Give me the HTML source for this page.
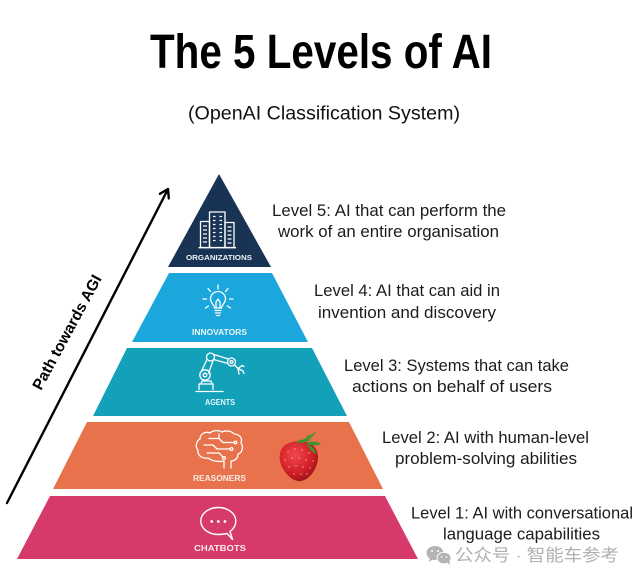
<!DOCTYPE html>
<html>
<head>
<meta charset="utf-8">
<style>
  html, body { margin: 0; padding: 0; background: #ffffff; }
  body { width: 640px; height: 581px; overflow: hidden; }
  svg { display: block; }
  .t { font-family: "Liberation Sans", "Noto Sans CJK SC", sans-serif; }
</style>
</head>
<body>
<svg width="640" height="581" viewBox="0 0 640 581" xmlns="http://www.w3.org/2000/svg">
  <defs>
    <radialGradient id="berry" cx="0.4" cy="0.35" r="0.7">
      <stop offset="0" stop-color="#f0484c"/>
      <stop offset="0.6" stop-color="#d42229"/>
      <stop offset="1" stop-color="#9a0f18"/>
    </radialGradient>
  </defs>

  <!-- Title -->
  <text class="t" x="150" y="68" font-size="48" font-weight="bold" fill="#000" textLength="342" lengthAdjust="spacingAndGlyphs">The 5 Levels of AI</text>
  <text class="t" x="188" y="119.5" font-size="19.3" fill="#111" textLength="272" lengthAdjust="spacingAndGlyphs">(OpenAI Classification System)</text>

  <!-- Arrow: Path towards AGI -->
  <line x1="7" y1="503" x2="167" y2="191" stroke="#000" stroke-width="2.4" stroke-linecap="round"/>
  <polyline points="159.9,193.8 168,189 168.8,198.4" fill="none" stroke="#000" stroke-width="2.4" stroke-linecap="round" stroke-linejoin="round"/>
  <text class="t" transform="translate(41,391) rotate(-61.5)" font-size="15.5" font-weight="bold" fill="#000" textLength="128" lengthAdjust="spacingAndGlyphs">Path towards AGI</text>

  <!-- Pyramid levels -->
  <polygon points="219,174 271,267 168,267" fill="#183354"/>
  <polygon points="169,273 272,273 308,342 132,342" fill="#1ba7dc"/>
  <polygon points="127,348 312,348 347,416 93,416" fill="#13a0b9"/>
  <polygon points="87,422 349,422 383,489 53,489" fill="#e8724b"/>
  <polygon points="50,496 385,496 418,559 17,559" fill="#d63a6a"/>

  <!-- Level 5 icon: buildings -->
  <g fill="none" stroke="#ffffff" stroke-width="1.3" stroke-linejoin="round">
    <rect x="209.5" y="212" width="15.5" height="35.5"/>
    <rect x="200.5" y="221.5" width="9" height="26"/>
    <rect x="225" y="222.5" width="9" height="25"/>
    <line x1="198.5" y1="247.7" x2="236" y2="247.7"/>
    <path d="M213 216.5h2.5M219.5 216.5h2.5M213 220.5h2.5M219.5 220.5h2.5M213 224.5h2.5M219.5 224.5h2.5M213 228.5h2.5M219.5 228.5h2.5M213 232.5h2.5M219.5 232.5h2.5M213 236.5h2.5M219.5 236.5h2.5M213 240.5h2.5M219.5 240.5h2.5"/>
    <path d="M203 226h4M203 230h4M203 234h4M203 238h4M203 242h4M227.5 227h4M227.5 231h4M227.5 235h4M227.5 239h4M227.5 243h4"/>
  </g>
  <text class="t" x="219" y="260" font-size="7.5" font-weight="bold" fill="#eef2f6" text-anchor="middle" textLength="66" lengthAdjust="spacingAndGlyphs">ORGANIZATIONS</text>

  <!-- Level 4 icon: lightbulb -->
  <g fill="none" stroke="#ffffff" stroke-width="1.3" stroke-linecap="round" stroke-linejoin="round">
    <path d="M214.5 308 C214.5 305 210.5 303 210.5 299 A7.5 7.5 0 1 1 225.5 299 C225.5 303 221.5 305 221.5 308 Z"/>
    <path d="M215 310.5H221M215.5 313H220.5M216.5 315.5H219.5"/>
    <path d="M216 307.5V302L218 299L220 302V307.5"/>
    <path d="M218 285V289M208 288.5L210.5 291.5M228 288.5L225.5 291.5M203 299H206.5M229.5 299H233M205.5 308L208.5 306M230.5 308L227.5 306"/>
  </g>
  <text class="t" x="219.5" y="335" font-size="8" font-weight="bold" fill="#eaf6fb" text-anchor="middle" textLength="55" lengthAdjust="spacingAndGlyphs">INNOVATORS</text>

  <!-- Level 3 icon: robot arm -->
  <g fill="none" stroke="#ffffff" stroke-width="1.3" stroke-linecap="round" stroke-linejoin="round">
    <line x1="196" y1="391.5" x2="223" y2="391.5"/>
    <path d="M199 389.5V384H213V389.5"/>
    <path d="M201 384L202 381H211L212 384"/>
    <circle cx="205" cy="375" r="5.2"/>
    <circle cx="205" cy="375" r="1.8"/>
    <path d="M201.5 371L207 359.5M208.5 373L213 361"/>
    <circle cx="210.5" cy="357" r="4"/>
    <path d="M214 354.5L228.5 359M213.5 359.5L228 363.5"/>
    <circle cx="231.5" cy="362" r="4"/>
    <circle cx="231.5" cy="362" r="1.4"/>
    <path d="M234.5 365L238 368.5M238 368.5L242 365.5L244 366.5M238 368.5L243 371L244 373.5M238 368.5L239 374"/>
  </g>
  <text class="t" x="220" y="405" font-size="7.8" font-weight="bold" fill="#e8f6f9" text-anchor="middle" textLength="30" lengthAdjust="spacingAndGlyphs">AGENTS</text>

  <!-- Level 2 icon: brain -->
  <g fill="none" stroke="#ffffff" stroke-width="1.3" stroke-linecap="round" stroke-linejoin="round">
    <path d="M224 468 L224 461 C218 462 212 461 208 458 C202 459 197 455 198 450 C195 447 196 441 200 439 C200 434 205 431 210 433 C213 430 219 430 222 432 C226 430 232 431 234 434 C239 434 243 438 241 443 C244 447 242 453 238 454 C238 458 235 461 231 461 L231 468"/>
    <path d="M204 445H213L217 449H230"/>
    <path d="M209 438.5H219L223 442.5H234"/>
    <path d="M207 453H219L223 457"/>
    <path d="M219 438.5V434"/>
    <circle cx="231.5" cy="449" r="1.4"/>
    <circle cx="235.5" cy="442.5" r="1.4"/>
    <circle cx="224" cy="458" r="1.4"/>
  </g>
  <text class="t" x="219.5" y="481" font-size="8" font-weight="bold" fill="#fbece6" text-anchor="middle" textLength="53" lengthAdjust="spacingAndGlyphs">REASONERS</text>

  <!-- Strawberry -->
  <g>
    <path d="M289 443 C279 446 277 459 283 469 C288 477 295 482 301 481 C311 479 318 467 318 457 C318 447 310 441 300 441 C296 441 292 442 289 443 Z" fill="url(#berry)"/>
    <g fill="#f7c9a0" opacity="0.8">
      <circle cx="288" cy="452" r="0.7"/><circle cx="295" cy="449" r="0.7"/><circle cx="302" cy="450" r="0.7"/>
      <circle cx="309" cy="453" r="0.7"/><circle cx="285" cy="460" r="0.7"/><circle cx="292" cy="458" r="0.7"/>
      <circle cx="299" cy="458" r="0.7"/><circle cx="306" cy="460" r="0.7"/><circle cx="313" cy="461" r="0.7"/>
      <circle cx="289" cy="467" r="0.7"/><circle cx="296" cy="466" r="0.7"/><circle cx="303" cy="467" r="0.7"/>
      <circle cx="310" cy="468" r="0.7"/><circle cx="294" cy="474" r="0.7"/><circle cx="301" cy="474" r="0.7"/>
      <circle cx="307" cy="474" r="0.7"/>
    </g>
    <g fill="#3f9430">
      <path d="M300 443 C303 438 308 437 311 440 C308 441 305 443 300 443 Z"/>
      <path d="M306 443 C311 441 317 441 321 444 C316 446 311 446 306 443 Z"/>
      <path d="M304 441 C306 436 310 434 314 435 C311 438 308 440 304 441 Z"/>
      <path d="M307 444 C312 446 316 450 316 454 C312 452 309 449 307 444 Z"/>
      <path d="M296 443 C298 440 301 439 304 440 C301 442 299 443 296 443 Z"/>
    </g>
    <path d="M309 439 C311 436 313 434 315 433" fill="none" stroke="#4f9b33" stroke-width="1.6" stroke-linecap="round"/>
  </g>

  <!-- Level 1 icon: chat bubble -->
  <g fill="none" stroke="#ffffff" stroke-width="1.4" stroke-linejoin="round">
    <path d="M227 533.5 C224 534 221 534.5 218.3 534.5 C208.6 534.5 200.8 528.5 200.8 521 C200.8 513.5 208.6 507.5 218.3 507.5 C228 507.5 235.8 513.5 235.8 521 C235.8 525.5 233.5 529 230 531.5 L232.5 539.5 Z"/>
  </g>
  <g fill="#ffffff">
    <circle cx="211.7" cy="521.5" r="1.4"/>
    <circle cx="218.3" cy="521.5" r="1.4"/>
    <circle cx="225" cy="521.5" r="1.4"/>
  </g>
  <text class="t" x="220" y="551" font-size="8.5" font-weight="bold" fill="#fbe9ef" text-anchor="middle" textLength="52" lengthAdjust="spacingAndGlyphs">CHATBOTS</text>

  <!-- Descriptions -->
  <g class="t" font-size="16.5" fill="#1c1c1c">
    <text x="272" y="216" textLength="234" lengthAdjust="spacingAndGlyphs">Level 5: AI that can perform the</text>
    <text x="278" y="237" textLength="221" lengthAdjust="spacingAndGlyphs">work of an entire organisation</text>
    <text x="314" y="296" textLength="186" lengthAdjust="spacingAndGlyphs">Level 4: AI that can aid in</text>
    <text x="318" y="318" textLength="178" lengthAdjust="spacingAndGlyphs">invention and discovery</text>
    <text x="344" y="371" textLength="225" lengthAdjust="spacingAndGlyphs">Level 3: Systems that can take</text>
    <text x="352" y="392" textLength="200" lengthAdjust="spacingAndGlyphs">actions on behalf of users</text>
    <text x="382" y="443" textLength="207" lengthAdjust="spacingAndGlyphs">Level 2: AI with human-level</text>
    <text x="395" y="464" textLength="182" lengthAdjust="spacingAndGlyphs">problem-solving abilities</text>
    <text x="411" y="518.5" textLength="222" lengthAdjust="spacingAndGlyphs">Level 1: AI with conversational</text>
    <text x="443" y="539.5" textLength="157" lengthAdjust="spacingAndGlyphs">language capabilities</text>
  </g>

  <!-- Watermark -->
  <g fill="#b4b4b4">
    <ellipse cx="435" cy="553" rx="8.5" ry="7"/>
    <ellipse cx="444" cy="558" rx="7" ry="5.8" stroke="#ffffff" stroke-width="1"/>
    <path d="M430 558 L428.5 562 L433 559.5 Z"/>
    <path d="M447 562.5 L450 565 L449.5 561 Z"/>
  </g>
  <g fill="#ffffff">
    <circle cx="432" cy="551" r="1"/><circle cx="438" cy="551" r="1"/>
    <circle cx="441.5" cy="557" r="0.8"/><circle cx="446.5" cy="557" r="0.8"/>
  </g>
  <text x="455" y="561" font-family="'Liberation Sans', 'Noto Sans CJK SC', sans-serif" font-size="17" fill="#b0b0b0" textLength="164" lengthAdjust="spacingAndGlyphs">公众号 · 智能车参考</text>
</svg>
</body>
</html>
